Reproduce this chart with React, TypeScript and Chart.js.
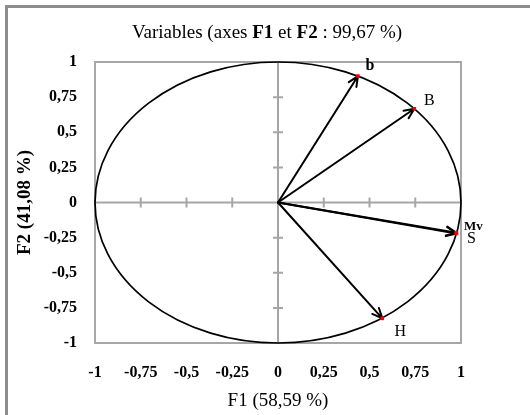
import React, { useEffect, useRef } from "react";
import { Chart, registerables } from "chart.js";

Chart.register(...registerables);

// ---- data ----
const variableNames = ["b", "B", "Mv", "S", "H"];
const f1Values = [0.437, 0.745, 0.975, 0.975, 0.57];
const f2Values = [0.9, 0.667, -0.215, -0.22, -0.825];
const tickValues = [-1, -0.75, -0.5, -0.25, 0, 0.25, 0.5, 0.75, 1];
const tickLabels = ["-1", "-0,75", "-0,5", "-0,25", "0", "0,25", "0,5", "0,75", "1"];
const titleParts = [
  { text: "Variables (axes ", bold: false },
  { text: "F1", bold: true },
  { text: " et ", bold: false },
  { text: "F2", bold: true },
  { text: " : 99,67 %)", bold: false },
];
const xAxisTitle = "F1 (58,59 %)";
const yAxisTitle = "F2 (41,08 %)";
const circleRadius = 1;

// ---- styles ----
const SERIF = '"Liberation Serif", "Times New Roman", serif';
const labelOffsets: Record<string, [number, number]> = {
  b: [12, -10],
  B: [15, -8],
  Mv: [17, -6],
  S: [15, 5],
  H: [18, 13],
};

const pcaPlugin = {
  id: "pcaDecor",
  beforeDatasetsDraw(chart: any) {
    const { ctx, chartArea: a, scales } = chart;
    const x = scales.x;
    const y = scales.y;
    const x0 = x.getPixelForValue(0);
    const y0 = y.getPixelForValue(0);
    ctx.save();
    // plot border
    ctx.strokeStyle = "#a6a6a6";
    ctx.lineWidth = 2;
    ctx.strokeRect(a.left, a.top, a.right - a.left, a.bottom - a.top);
    // zero axes with cross ticks
    ctx.beginPath();
    ctx.moveTo(a.left, y0);
    ctx.lineTo(a.right, y0);
    ctx.moveTo(x0, a.top);
    ctx.lineTo(x0, a.bottom);
    tickValues.forEach((v) => {
      const px = x.getPixelForValue(v);
      ctx.moveTo(px, y0 - 5);
      ctx.lineTo(px, y0 + 5);
      const py = y.getPixelForValue(v);
      ctx.moveTo(x0 - 5, py);
      ctx.lineTo(x0 + 5, py);
    });
    ctx.stroke();
    // correlation circle
    ctx.strokeStyle = "#000";
    ctx.lineWidth = 1.7;
    ctx.beginPath();
    ctx.ellipse(
      x0,
      y0,
      x.getPixelForValue(circleRadius) - x0,
      y0 - y.getPixelForValue(circleRadius),
      0,
      0,
      Math.PI * 2
    );
    ctx.stroke();
    // arrows
    ctx.lineWidth = 2;
    ctx.lineCap = "round";
    ctx.lineJoin = "round";
    f1Values.forEach((v, i) => {
      const tx = x.getPixelForValue(v);
      const ty = y.getPixelForValue(f2Values[i]);
      const ang = Math.atan2(ty - y0, tx - x0);
      ctx.beginPath();
      ctx.moveTo(x0, y0);
      ctx.lineTo(tx, ty);
      const L = 11;
      const spread = 0.42;
      ctx.moveTo(tx - L * Math.cos(ang - spread), ty - L * Math.sin(ang - spread));
      ctx.lineTo(tx, ty);
      ctx.lineTo(tx - L * Math.cos(ang + spread), ty - L * Math.sin(ang + spread));
      ctx.stroke();
    });
    ctx.restore();
  },
  afterDatasetsDraw(chart: any) {
    const { ctx, scales } = chart;
    const x = scales.x;
    const y = scales.y;
    ctx.save();
    ctx.fillStyle = "#000";
    ctx.textAlign = "center";
    ctx.textBaseline = "middle";
    variableNames.forEach((name, i) => {
      const off = labelOffsets[name] || [12, -10];
      const px = x.getPixelForValue(f1Values[i]) + off[0];
      const py = y.getPixelForValue(f2Values[i]) + off[1];
      ctx.font = name === "b" ? `bold 16px ${SERIF}` : `16px ${SERIF}`;
      if (name === "Mv") ctx.font = `bold 13px ${SERIF}`;
      ctx.fillText(name, px, py);
    });
    // title
    ctx.textAlign = "left";
    let total = 0;
    const widths = titleParts.map((p) => {
      ctx.font = `${p.bold ? "bold " : ""}19px ${SERIF}`;
      const w = ctx.measureText(p.text).width;
      total += w;
      return w;
    });
    let cx = 267 - total / 2;
    titleParts.forEach((p, i) => {
      ctx.font = `${p.bold ? "bold " : ""}19px ${SERIF}`;
      ctx.fillText(p.text, cx, 33);
      cx += widths[i];
    });
    ctx.restore();
  },
};

export default function App() {
  const ref = useRef<HTMLCanvasElement | null>(null);
  useEffect(() => {
    if (!ref.current) return;
    const tickFont = { family: SERIF, size: 16, weight: "bold" as const };
    const chart = new Chart(ref.current, {
      type: "scatter",
      data: {
        datasets: [
          {
            data: f1Values.map((v, i) => ({ x: v, y: f2Values[i] })),
            pointStyle: "rect",
            pointRadius: 2.5,
            backgroundColor: "#ff0000",
            borderColor: "#ff0000",
            borderWidth: 0,
          },
        ],
      },
      options: {
        animation: false,
        responsive: false,
        events: [],
        layout: { padding: { top: 62, right: 69, bottom: 0, left: 0 } },
        plugins: { legend: { display: false }, tooltip: { enabled: false }, title: { display: false } },
        scales: {
          x: {
            type: "linear",
            position: "bottom",
            min: -1,
            max: 1,
            afterBuildTicks: (s: any) => {
              s.ticks = tickValues.map((v) => ({ value: v }));
            },
            afterFit: (s: any) => {
              s.height = 72;
            },
            ticks: {
              callback: (_v: any, i: number) => tickLabels[i],
              font: tickFont,
              color: "#000",
              padding: 20,
              maxRotation: 0,
              autoSkip: false,
            },
            grid: { display: false, drawTicks: false },
            border: { display: false },
            title: {
              display: true,
              text: xAxisTitle,
              font: { family: SERIF, size: 19 },
              color: "#000",
              padding: { top: 0, bottom: 3 },
            },
          },
          y: {
            type: "linear",
            position: "left",
            min: -1,
            max: 1,
            afterBuildTicks: (s: any) => {
              s.ticks = tickValues.map((v) => ({ value: v }));
            },
            afterFit: (s: any) => {
              s.width = 95;
            },
            ticks: {
              callback: (_v: any, i: number) => tickLabels[i],
              font: tickFont,
              color: "#000",
              padding: 18,
              autoSkip: false,
            },
            grid: { display: false, drawTicks: false },
            border: { display: false },
            title: {
              display: true,
              text: yAxisTitle,
              font: { family: SERIF, size: 19, weight: "bold" },
              color: "#000",
              padding: { top: 14, bottom: 0 },
            },
          },
        },
      },
      plugins: [pcaPlugin],
    });
    return () => chart.destroy();
  }, []);

  return (
    <div style={{ position: "absolute", left: 0, top: 0, width: 530, height: 415, background: "#fff" }}>
      <canvas ref={ref} width={530} height={415} style={{ width: 530, height: 415, display: "block" }} />
      <div
        style={{
          position: "absolute",
          left: 5,
          top: 5,
          right: 0,
          bottom: 0,
          borderLeft: "3px solid #8c8c8c",
          borderTop: "3px solid #8c8c8c",
          pointerEvents: "none",
        }}
      />
    </div>
  );
}
